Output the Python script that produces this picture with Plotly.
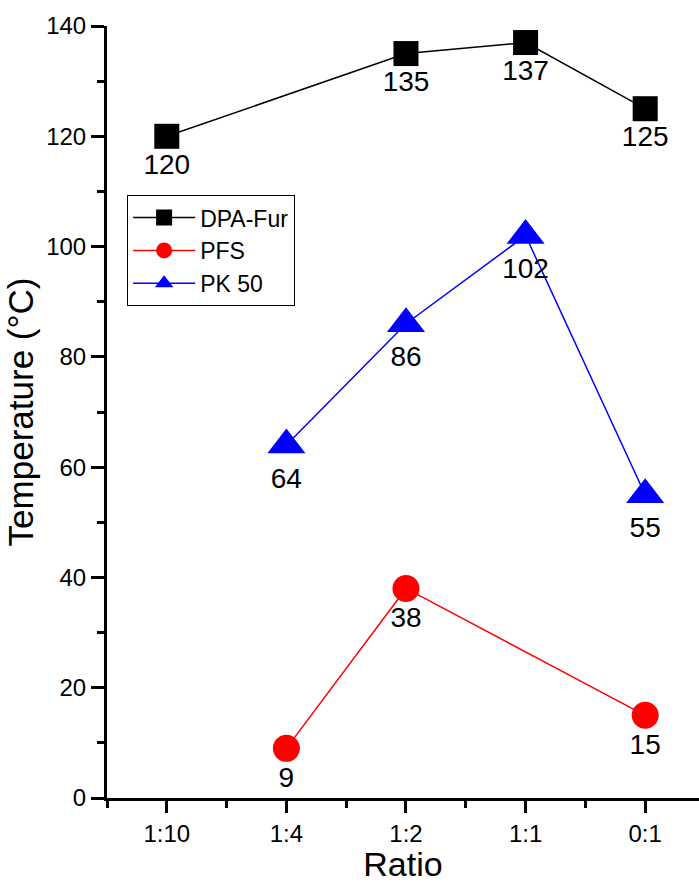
import plotly.graph_objects as go

# Category order along the x axis
ratio_labels = ["1:10", "1:4", "1:2", "1:1", "0:1"]

# Series: (ratio, temperature in °C)
dpa_ratios = ["1:10", "1:2", "1:1", "0:1"]
dpa_temps = [120, 135, 137, 125]

pfs_ratios = ["1:4", "1:2", "0:1"]
pfs_temps = [9, 38, 15]

pk_ratios = ["1:4", "1:2", "1:1", "0:1"]
pk_temps = [64, 86, 102, 55]

y_ticks = [0, 20, 40, 60, 80, 100, 120, 140]

FONT = "Liberation Sans, Arial, sans-serif"


def positions(ratios):
    return [ratio_labels.index(r) for r in ratios]


def series(name, ratios, temps, color, symbol, size):
    return go.Scatter(
        x=positions(ratios),
        y=temps,
        name=name,
        mode="lines+markers+text",
        text=[str(t) for t in temps],
        textposition="bottom center",
        textfont=dict(family=FONT, size=28, color="black"),
        line=dict(color=color, width=1.5),
        marker=dict(symbol=symbol, size=size, color=color, line=dict(width=0)),
        cliponaxis=False,
    )


fig = go.Figure()
fig.add_trace(series("DPA-Fur", dpa_ratios, dpa_temps, "black", "square", 25))
fig.add_trace(series("PFS", pfs_ratios, pfs_temps, "red", "circle", 27))
fig.add_trace(series("PK 50", pk_ratios, pk_temps, "blue", "triangle-up", 33))

fig.update_layout(
    width=699,
    height=883,
    margin=dict(l=107, r=0, t=26, b=85),
    paper_bgcolor="white",
    plot_bgcolor="white",
    font=dict(family=FONT, color="black"),
    showlegend=True,
    legend=dict(
        x=0.034,
        y=0.781,
        xanchor="left",
        yanchor="top",
        bgcolor="white",
        bordercolor="black",
        borderwidth=1,
        itemwidth=62,
        font=dict(family=FONT, size=23, color="black"),
        tracegroupgap=0,
    ),
    xaxis=dict(
        range=[-0.5, 4.45],
        tickmode="array",
        tickvals=list(range(len(ratio_labels))),
        ticktext=ratio_labels,
        ticks="outside",
        ticklen=12,
        tickwidth=3,
        tickcolor="black",
        tickfont=dict(family=FONT, size=24, color="black"),
        showline=True,
        linewidth=3,
        linecolor="black",
        showgrid=False,
        zeroline=False,
        minor=dict(tick0=-0.5, dtick=1, ticks="outside", ticklen=7,
                   tickwidth=3, tickcolor="black", showgrid=False),
        title=dict(text="Ratio", font=dict(family=FONT, size=34, color="black"),
                   standoff=8),
    ),
    yaxis=dict(
        range=[0, 140],
        tickmode="array",
        tickvals=y_ticks,
        ticks="outside",
        ticklen=13,
        tickwidth=3,
        tickcolor="black",
        tickfont=dict(family=FONT, size=24, color="black"),
        showline=True,
        linewidth=3,
        linecolor="black",
        showgrid=False,
        zeroline=False,
        minor=dict(tick0=10, dtick=20, ticks="outside", ticklen=7,
                   tickwidth=3, tickcolor="black", showgrid=False),
        title=dict(text="Temperature (°C)", font=dict(family=FONT, size=35, color="black"),
                   standoff=2),
    ),
)

fig.write_html("out.html")
